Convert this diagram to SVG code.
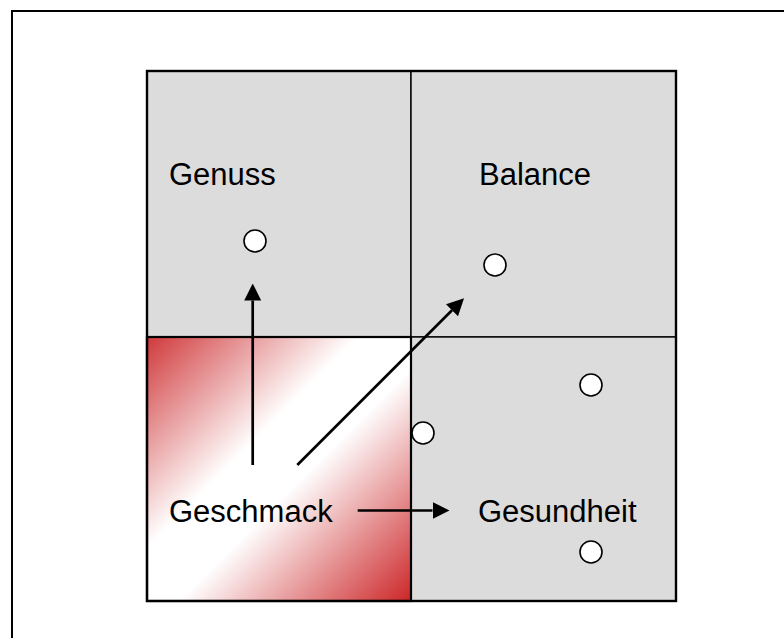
<svg xmlns="http://www.w3.org/2000/svg" width="784" height="638" viewBox="0 0 784 638">
  <style>
    .frame { fill: none; stroke: #000; stroke-width: 2; }
    .cell { fill: #dcdcdc; stroke: #000; stroke-width: 1.4; }
    .hot { stroke: #000; stroke-width: 2.2; }
    .outer { fill: none; stroke: #000; stroke-width: 2.4; }
    .label { font-family: "Liberation Sans", Arial, sans-serif; font-size: 31px; fill: #000; }
    .dot { fill: #fff; stroke: #000; stroke-width: 1.6; }
    .arrow { stroke: #000; stroke-width: 2.7; fill: none; marker-end: url(#head); }
  </style>
  <defs>
    <linearGradient id="redFade" x1="0" y1="0" x2="1" y2="1">
      <stop offset="0" stop-color="#d0393b"/>
      <stop offset="0.4" stop-color="#ffffff"/>
      <stop offset="0.56" stop-color="#ffffff"/>
      <stop offset="1" stop-color="#cc2628"/>
    </linearGradient>
    <marker id="head" viewBox="0 -9 17 18" refX="0" refY="0" markerWidth="17" markerHeight="18" markerUnits="userSpaceOnUse" orient="auto">
      <path d="M0,-8.5 L17,0 L0,8.5 z" fill="#000"/>
    </marker>
  </defs>

  <!-- page frame -->
  <rect class="frame" x="12" y="11" width="820" height="700"/>

  <!-- quadrant matrix -->
  <g id="genuss">
    <rect class="cell" x="147" y="71" width="264" height="266"/>
    <text class="label" x="169" y="185">Genuss</text>
    <circle class="dot" cx="255" cy="241" r="11"/>
  </g>
  <g id="balance">
    <rect class="cell" x="411" y="71" width="265" height="266"/>
    <text class="label" x="479" y="185">Balance</text>
    <circle class="dot" cx="495" cy="265" r="11"/>
  </g>
  <g id="gesundheit">
    <rect class="cell" x="411" y="337" width="265" height="264"/>
    <text class="label" x="478" y="522">Gesundheit</text>
    <circle class="dot" cx="591" cy="385" r="11"/>
    <circle class="dot" cx="591" cy="552" r="11"/>
  </g>
  <g id="geschmack">
    <rect class="hot" x="147" y="337" width="264" height="264" fill="url(#redFade)"/>
    <text class="label" x="169" y="522">Geschmack</text>
  </g>
  <rect class="outer" x="147" y="71" width="529" height="530"/>
  <g id="edge-dot">
    <circle class="dot" cx="423" cy="433" r="11"/>
  </g>

  <!-- connectors -->
  <g id="connectors">
    <line class="arrow" x1="252.7" y1="465" x2="252.7" y2="300.5"/>
    <line class="arrow" x1="297.3" y1="465" x2="452" y2="310.3"/>
    <line class="arrow" x1="357.7" y1="510.5" x2="432.5" y2="510.5"/>
  </g>
</svg>
